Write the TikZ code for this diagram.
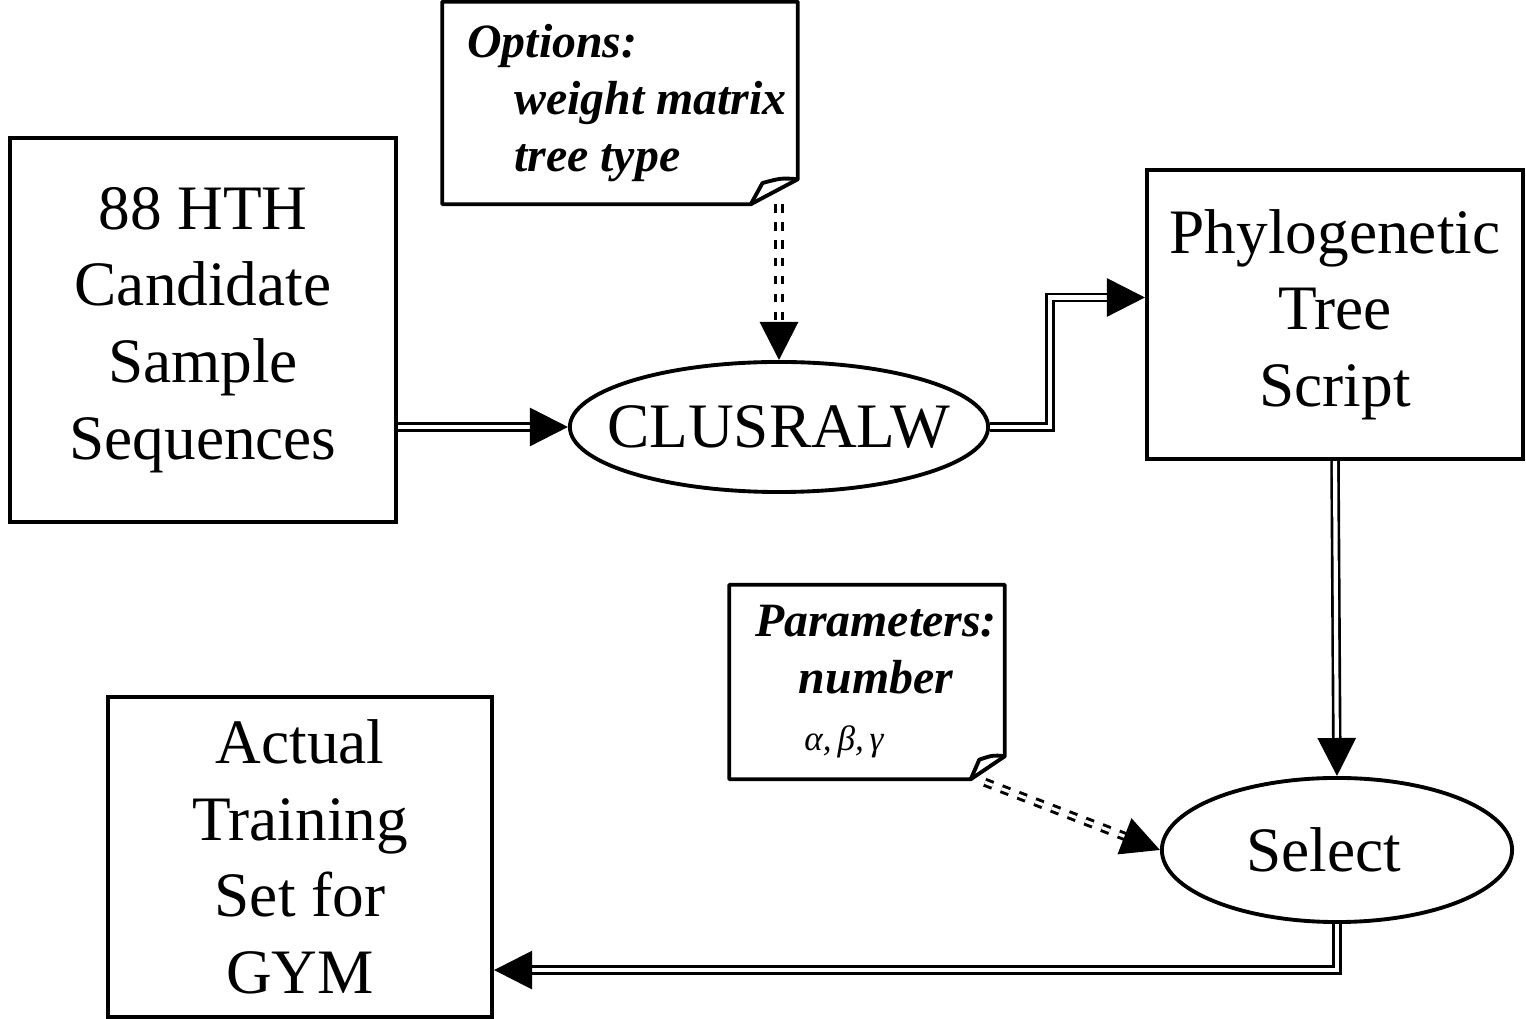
\documentclass[tikz,border=0pt]{standalone}
\usepackage{fontspec}
\setmainfont{Liberation Serif}
\usetikzlibrary{shapes.geometric,arrows.meta}
\tikzset{
  block/.style={draw, line width=1.1pt, align=center, inner sep=0pt, font=\fontsize{18}{21.8}\selectfont},
  proc/.style={draw, ellipse, line width=1.1pt, inner sep=0pt, inner xsep=-0.3cm, font=\fontsize{18}{21.8}\selectfont},
  notebox/.style={inner sep=0pt, font=\fontsize{13.6}{16.2}\selectfont\bfseries\itshape},
  dbl/.style={double, line width=0.75pt, double distance=1.2pt, -{Triangle[length=0.38cm,width=0.38cm]}},
  dbldash/.style={dbl, line width=0.85pt, double distance=0.9pt, dash pattern=on 2.4pt off 2.7pt},
}
% note with a turned-down corner
\newcommand\dognote[3]{%
  \draw[line width=1.1pt, line join=round] (#1.north west) -- (#1.north east) -- ([yshift=#3]#1.south east)
    -- ([xshift=-#2]#1.south east) -- (#1.south west) -- cycle;
  \draw[line width=1.1pt, line join=round] ([xshift=-#2]#1.south east) -- ([xshift=-0.75*#2,yshift=0.85*#3]#1.south east)
    .. controls ([xshift=-0.35*#2,yshift=1.05*#3]#1.south east) .. ([yshift=#3]#1.south east);}
\begin{document}
\begin{tikzpicture}[x=0.01cm, y=-0.01cm, line cap=butt]
  \useasboundingbox (0,0) rectangle (1526,1019);
  \node[block, minimum width=3.86cm, minimum height=3.84cm] (seqs) at (203,330) {88 HTH\\Candidate\\Sample\\Sequences};
  \node[proc, minimum width=4.18cm, minimum height=1.30cm] (clus) at (779,427) {CLUSRALW};
  \node[block, minimum width=3.76cm, minimum height=2.89cm] (tree) at (1335,314.5) {Phylogenetic\\Tree\\Script};
  \node[proc, minimum width=3.50cm, minimum height=1.44cm] (sel) at (1337,850) {Select\hspace{0.26cm}\mbox{}};
  \node[block, minimum width=3.84cm, minimum height=3.20cm] (act) at (300,857) {Actual\\Training\\Set for\\GYM};
  \node[notebox, align=left, minimum width=3.54cm, minimum height=2.01cm] (opt) at (620,103)
    {\hspace{0.14cm}Options:\\\hspace{0.61cm}weight matrix\\\hspace{0.61cm}tree type};
  \node[notebox, align=center, minimum width=2.74cm, minimum height=1.93cm] (par) at (867,682)
    {\hspace{0.18cm}Parameters:\\\hspace{0.18cm}number\\{\fontsize{10}{17}\selectfont\mdseries α,\,β,\,γ}\hspace{0.46cm}\mbox{}};
  \dognote{opt}{0.47cm}{0.25cm}
  \dognote{par}{0.34cm}{0.23cm}

  \draw[dbl] (seqs.east |- clus.west) -- (clus.west);
  \draw[dbl] (clus.east) -- (1050,427) |- ([yshift=0.17cm]tree.west);
  \draw[dbldash] (opt.south -| clus.north) -- (clus.north);
  \draw[dbl] (tree.south) -- (sel.north);
  \draw[dbldash] ([xshift=-0.2cm,yshift=-0.03cm]par.south east) -- (sel.west);
  \draw[dbl] (sel.south) |- ([yshift=-1.13cm]act.east);
\end{tikzpicture}
\end{document}
